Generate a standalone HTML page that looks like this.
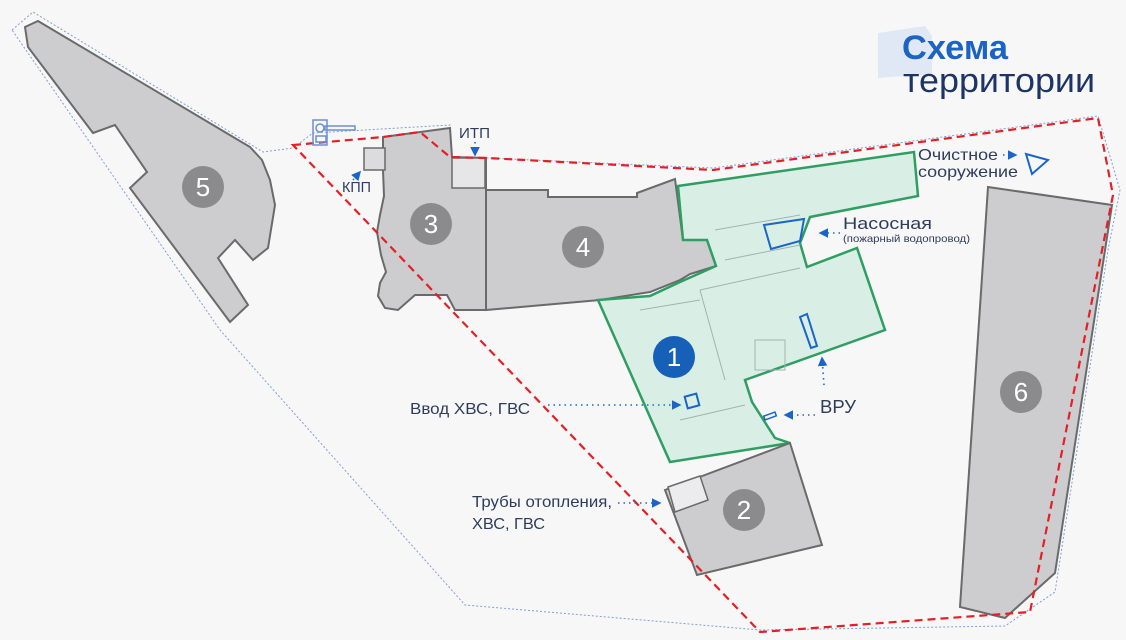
<!DOCTYPE html>
<html><head><meta charset="utf-8"><style>
html,body{margin:0;padding:0;background:#f7f7f7;}
svg{display:block;font-family:"Liberation Sans","DejaVu Sans",sans-serif;}
</style></head><body>
<svg width="1126" height="640" viewBox="0 0 1126 640" xmlns="http://www.w3.org/2000/svg">
<defs>
<marker id="ar" markerWidth="6" markerHeight="6" refX="5" refY="3" orient="auto"><path d="M0,0 L6,3 L0,6Z" fill="#1a66c8"/></marker>
</defs>
<rect width="1126" height="640" fill="#f7f7f7"/>
<path d="M878,33 L925,26 L932,36 L932,74 L878,78Z" fill="#dfe8f4"/>
<text x="902" y="59" font-size="34" font-weight="bold" fill="#1b63c4" textLength="106" lengthAdjust="spacingAndGlyphs">Схема</text>
<text x="903" y="92" font-size="34" fill="#1d3466" textLength="192" lengthAdjust="spacingAndGlyphs">территории</text>

<polyline points="12,30 33,12 263,152 293,148 313,133 450,125 452,157 487,158 713,168 1098,116 1120,190 1108,250 1060,560 1055,592 1005,626 760,630 465,605 220,330 12,30" fill="none" stroke="#7f9fd6" stroke-width="1" stroke-dasharray="2,2"/>

<polygon points="25,27 38,21 250,147 262,160 270,180 275,205 268,248 253,260 235,240 218,258 248,305 230,322 130,188 147,172 115,125 93,133 28,47" fill="#cdcdcf" stroke="#6a6a6a" stroke-width="2"/>
<path d="M383,137 L450,128 L452,157 L486,158 L486,310 L455,310 L447,295 L415,295 L398,310 L385,308 L378,296 L380,283 L386,272 L381,255 L377,232 L380,215 L384,196 L383,170Z" fill="#cdcdcf" stroke="#6a6a6a" stroke-width="2"/>
<rect x="452" y="158" width="33" height="30" fill="#e6e6e8" stroke="#6a6a6a" stroke-width="1.5"/>
<rect x="364" y="148" width="21" height="22" fill="#dcdcde" stroke="#6a6a6a" stroke-width="1.5"/>
<polygon points="486,190 548,190 548,197 637,197 637,193 675,179 683,240 707,240 716,266 690,274 680,280 650,292 600,300 486,310" fill="#cdcdcf" stroke="#6a6a6a" stroke-width="2"/>
<polygon points="678,186 914,152 918,196 810,217 800,243 807,267 857,248 885,330 745,380 752,402 775,438 790,443 670,462 598,300 650,296 680,282 716,266 707,240 683,240" fill="#d9efe6" stroke="#2e9e62" stroke-width="2.5"/>
<g stroke="#9fb4b0" stroke-width="1" fill="none">
<line x1="700" y1="290" x2="725" y2="380"/><line x1="700" y1="290" x2="800" y2="268"/>
<line x1="715" y1="230" x2="800" y2="215"/><line x1="725" y1="260" x2="800" y2="245"/>
<rect x="755" y="340" width="30" height="30"/><line x1="640" y1="310" x2="700" y2="300"/>
<line x1="680" y1="420" x2="745" y2="405"/>
</g>
<polygon points="764,225 804,219 800,241 771,249" fill="none" stroke="#1a66c8" stroke-width="2"/>
<polygon points="800,317 807,314 817,346 811,348" fill="none" stroke="#1a66c8" stroke-width="2"/>
<rect x="686" y="395" width="12" height="12" fill="none" stroke="#1a66c8" stroke-width="2" transform="rotate(-15 692 401)"/>
<rect x="764" y="414" width="12" height="4" fill="none" stroke="#1a66c8" stroke-width="1.5" transform="rotate(-20 770 416)"/>
<polygon points="665,490 790,443 822,545 697,575" fill="#cdcdcf" stroke="#6a6a6a" stroke-width="2"/>
<polygon points="668,487 700,476 708,500 675,512" fill="#ececee" stroke="#6a6a6a" stroke-width="1.5"/>
<polygon points="988,187 1112,205 1055,573 1005,618 960,607" fill="#cdcdcf" stroke="#6a6a6a" stroke-width="2"/>

<polygon points="293,145 383,137 420,132 450,157 487,158 713,170 1098,118 1113,195 1030,612 760,632" fill="none" stroke="#e41f25" stroke-width="2.2" stroke-dasharray="8,5"/>

<g font-size="26" fill="#fff" text-anchor="middle">
<circle cx="203" cy="187" r="21" fill="#8b8b8d"/><text x="203" y="196">5</text>
<circle cx="431" cy="224" r="21" fill="#8b8b8d"/><text x="431" y="233">3</text>
<circle cx="583" cy="247" r="21" fill="#8b8b8d"/><text x="583" y="256">4</text>
<circle cx="674" cy="357" r="21" fill="#1660b8"/><text x="674" y="366">1</text>
<circle cx="744" cy="510" r="21" fill="#8b8b8d"/><text x="744" y="519">2</text>
<circle cx="1021" cy="392" r="21" fill="#8b8b8d"/><text x="1021" y="401">6</text>
</g>

<g stroke="#6e8fd0" stroke-width="1.5" fill="none">
<rect x="313" y="120" width="14" height="25"/><circle cx="320" cy="128" r="4"/><rect x="325" y="126" width="30" height="4"/><rect x="316" y="136" width="10" height="6"/>
</g>

<g fill="#2f3c5c">
<text x="342" y="192" font-size="15" textLength="29" lengthAdjust="spacingAndGlyphs">КПП</text>
<text x="459" y="138" font-size="15" textLength="31" lengthAdjust="spacingAndGlyphs">ИТП</text>
<text x="918" y="160" font-size="16" textLength="80" lengthAdjust="spacingAndGlyphs">Очистное</text>
<text x="918" y="177" font-size="16" textLength="100" lengthAdjust="spacingAndGlyphs">сооружение</text>
<text x="843" y="229" font-size="17" textLength="89" lengthAdjust="spacingAndGlyphs">Насосная</text>
<text x="843" y="242" font-size="10.5" textLength="127" lengthAdjust="spacingAndGlyphs">(пожарный водопровод)</text>
<text x="820" y="413" font-size="18" textLength="36" lengthAdjust="spacingAndGlyphs">ВРУ</text>
<text x="410" y="414" font-size="16" textLength="120" lengthAdjust="spacingAndGlyphs">Ввод ХВС, ГВС</text>
<text x="472" y="507" font-size="16" textLength="140" lengthAdjust="spacingAndGlyphs">Трубы отопления,</text>
<text x="472" y="529" font-size="16" textLength="73" lengthAdjust="spacingAndGlyphs">ХВС, ГВС</text>
</g>
<g stroke="#1a66c8" stroke-width="1.6" stroke-dasharray="1.5,4" fill="none" marker-end="url(#ar)">
<line x1="548" y1="405" x2="680" y2="405"/>
<line x1="840" y1="233" x2="820" y2="233"/>
<line x1="824" y1="385" x2="822" y2="358"/>
<line x1="815" y1="415" x2="785" y2="415"/>
<line x1="618" y1="503" x2="660" y2="503"/>
<line x1="1003" y1="155" x2="1016" y2="155"/>
<line x1="353" y1="180" x2="360" y2="172"/>
<line x1="475" y1="142" x2="475" y2="155"/>
</g>
<polygon points="1026,154 1048,160 1032,174" fill="none" stroke="#1a66c8" stroke-width="2"/>
</svg>
</body></html>
